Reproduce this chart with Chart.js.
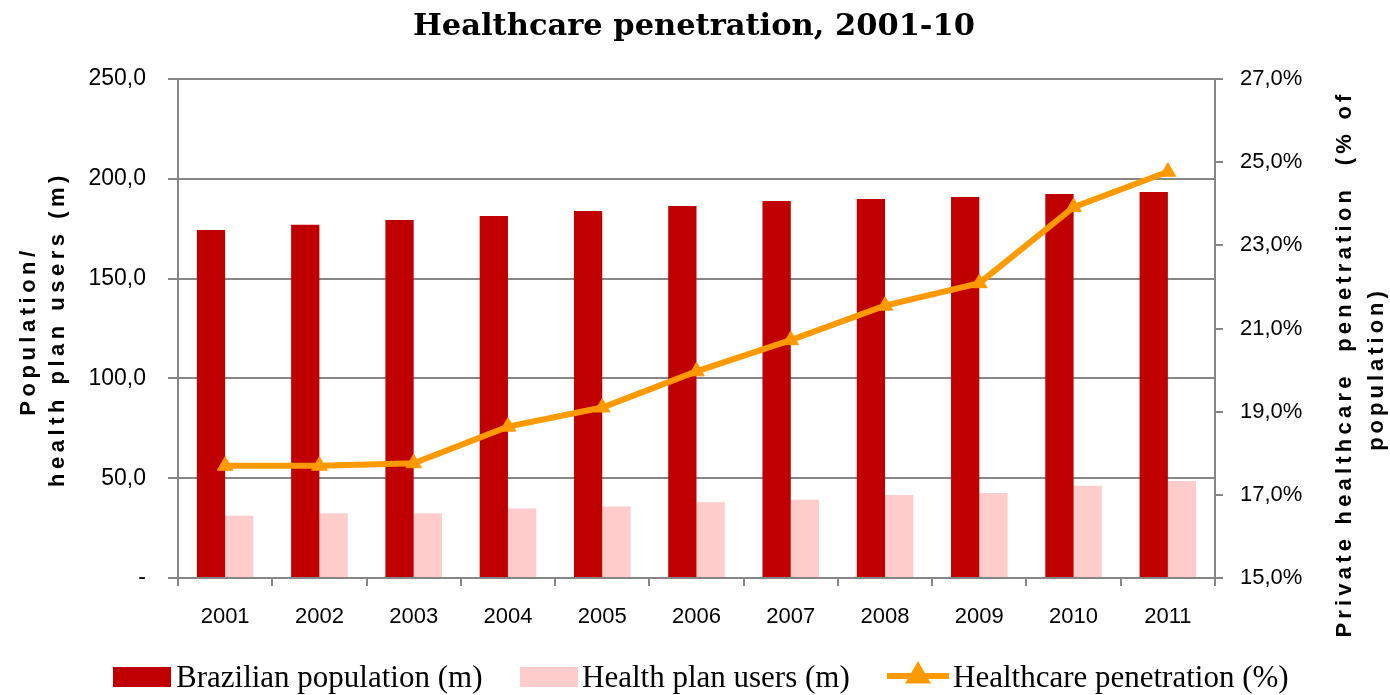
<!DOCTYPE html>
<html><head><meta charset="utf-8">
<script src="https://cdn.jsdelivr.net/npm/chart.js@4"></script>
<style>html,body{margin:0;padding:0;background:#fff}#wrap{width:1390px;height:695px;position:relative}</style>
</head><body><div id="wrap"><canvas id="c" width="1390" height="695"></canvas></div>
<script>
const categories = ['2001','2002','2003','2004','2005','2006','2007','2008','2009','2010','2011'];
const population = [174.3, 177.0, 179.4, 181.4, 183.9, 186.4, 188.9, 189.9, 190.9, 192.4, 193.4];
const healthPlanUsers = [31.2, 32.4, 32.4, 34.8, 35.8, 37.9, 39.2, 41.6, 42.6, 46.2, 48.6];
const penetration = [17.70, 17.70, 17.76, 18.64, 19.10, 19.97, 20.72, 21.55, 22.09, 23.92, 24.77];
const leftTickLabels = ['-', '50,0', '100,0', '150,0', '200,0', '250,0'];
const rightTickLabels = ['15,0%', '17,0%', '19,0%', '21,0%', '23,0%', '25,0%', '27,0%'];
const seriesNames = ['Brazilian population (m)', 'Health plan users (m)', 'Healthcare penetration (%)'];
const titleText = 'Healthcare penetration, 2001-10';
const leftAxisTitle = ['Population/', 'health plan users (m)'];
const rightAxisTitle = ['Private healthcare  penetration  (% of', 'population)'];

const RED = '#C00000', PINK = '#FFCCCC', ORANGE = '#FF9900', GRID = '#868686';
const tickFont = {family: '"Liberation Sans", Arial, sans-serif', size: 22};
const leftTickFont = {family: '"Liberation Sans", Arial, sans-serif', size: 23};

const decor = {
  id: 'decor',
  afterDraw(chart) {
    const ctx = chart.ctx;
    ctx.save();
    ctx.fillStyle = '#000';
    // title
    ctx.font = 'bold 30.5px "DejaVu Serif", serif';
    ctx.textAlign = 'center';
    ctx.textBaseline = 'middle';
    ctx.fillText(titleText, 694, 27);
    // axis titles
    ctx.font = 'bold 22px "Liberation Sans", Arial, sans-serif';
    const drawRot = (txt, x, y, sp) => {
      ctx.save(); ctx.letterSpacing = sp; ctx.translate(x, y); ctx.rotate(-Math.PI / 2);
      ctx.fillText(txt, 0, 0); ctx.restore();
    };
    drawRot(leftAxisTitle[0], 29, 331, '4.5px');
    drawRot(leftAxisTitle[1], 58, 329, '4.5px');
    drawRot(rightAxisTitle[0], 1345, 364, '4.2px');
    drawRot(rightAxisTitle[1], 1377, 369, '4px');
    // legend
    const ly = 676;
    ctx.font = '31px "Liberation Serif", serif';
    ctx.textAlign = 'left';
    ctx.textBaseline = 'alphabetic';
    const base = 687;
    ctx.fillStyle = RED; ctx.fillRect(113, 667, 58, 20);
    ctx.fillStyle = '#000'; ctx.fillText(seriesNames[0], 176, base);
    ctx.fillStyle = PINK; ctx.fillRect(520, 667, 58, 20);
    ctx.fillStyle = '#000'; ctx.fillText(seriesNames[1], 582, base);
    ctx.strokeStyle = ORANGE; ctx.lineWidth = 6;
    ctx.beginPath(); ctx.moveTo(887, ly); ctx.lineTo(949, ly); ctx.stroke();
    ctx.fillStyle = ORANGE;
    Chart.helpers.drawPoint(ctx, {pointStyle: 'triangle', radius: 9, borderWidth: 1}, 918, ly);
    ctx.fillStyle = '#000'; ctx.fillText(seriesNames[2], 953, base);
    ctx.restore();
  }
};

new Chart(document.getElementById('c'), {
  data: {
    labels: categories,
    datasets: [
      {type: 'bar', label: seriesNames[0], data: population, backgroundColor: RED, yAxisID: 'y', order: 1,
       categoryPercentage: 0.6, barPercentage: 1.0},
      {type: 'bar', label: seriesNames[1], data: healthPlanUsers, backgroundColor: PINK, yAxisID: 'y', order: 1,
       categoryPercentage: 0.6, barPercentage: 1.0},
      {type: 'line', label: seriesNames[2], data: penetration, yAxisID: 'y1', order: 0,
       borderColor: ORANGE, backgroundColor: ORANGE, borderWidth: 6, tension: 0,
       pointStyle: 'triangle', pointRadius: 9, pointBackgroundColor: ORANGE, pointBorderColor: ORANGE, pointBorderWidth: 1}
    ]
  },
  options: {
    responsive: false,
    devicePixelRatio: 1,
    animation: false,
    layout: {padding: {top: 79, left: 0, right: 0, bottom: 0}},
    plugins: {legend: {display: false}, title: {display: false}, tooltip: {enabled: false}},
    scales: {
      x: {
        offset: true,
        grid: {display: true, drawOnChartArea: false, offset: true, tickLength: 8, color: GRID, lineWidth: 2},
        border: {display: true, color: GRID, width: 2},
        ticks: {padding: 18, color: '#000', font: tickFont, maxRotation: 0},
        afterFit(s) { s.height = 117; }
      },
      y: {
        position: 'left', min: 0, max: 250,
        ticks: {stepSize: 50, padding: 22, color: '#000', font: leftTickFont,
                callback: (v, i) => leftTickLabels[i]},
        grid: {color: GRID, lineWidth: 2, tickLength: 10},
        border: {display: true, color: GRID, width: 2},
        afterFit(s) { s.width = 178; }
      },
      y1: {
        position: 'right', min: 15, max: 27,
        ticks: {stepSize: 2, padding: 17, color: '#000', font: tickFont,
                callback: (v, i) => rightTickLabels[i]},
        grid: {drawOnChartArea: false, color: GRID, lineWidth: 2, tickLength: 8},
        border: {display: true, color: GRID, width: 2},
        afterFit(s) { s.width = 175; }
      }
    }
  },
  plugins: [decor]
});
</script>
</body></html>
